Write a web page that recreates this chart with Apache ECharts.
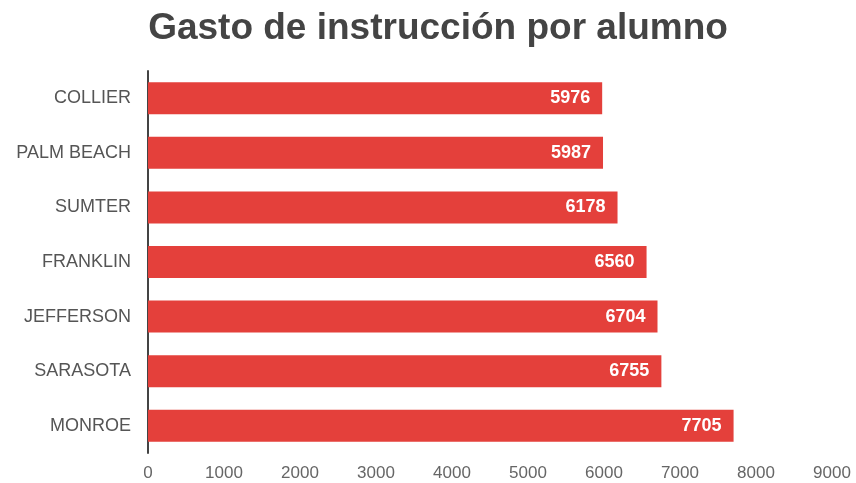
<!DOCTYPE html>
<html>
<head>
<meta charset="utf-8">
<script src="https://cdn.jsdelivr.net/npm/echarts@6/dist/echarts.min.js"></script>
<style>
html,body{margin:0;padding:0;background:#fff;}
#chart{width:856px;height:483px;}
</style>
</head>
<body>
<div id="chart"></div>
<script>
var titleText = 'Gasto de instrucción por alumno';
var categories = ['COLLIER', 'PALM BEACH', 'SUMTER', 'FRANKLIN', 'JEFFERSON', 'SARASOTA', 'MONROE'];
var values = [5976, 5987, 6178, 6560, 6704, 6755, 7705];
var xTicks = [0, 1000, 2000, 3000, 4000, 5000, 6000, 7000, 8000, 9000];

var FONT = 'Liberation Sans, Arial, sans-serif';
var chart = echarts.init(document.getElementById('chart'));
chart.setOption({
  backgroundColor: '#fff',
  animation: false,
  title: {
    text: titleText,
    left: 433,
    textAlign: 'center',
    top: 5,
    textStyle: {
      fontFamily: FONT,
      fontSize: 37,
      fontWeight: 'bold',
      color: '#444444'
    }
  },
  grid: {
    left: 148,
    right: 24,
    top: 71,
    height: 382,
    containLabel: false
  },
  xAxis: {
    type: 'value',
    min: xTicks[0],
    max: xTicks[xTicks.length - 1],
    interval: 1000,
    axisLine: { show: false },
    axisTick: { show: false },
    splitLine: { show: false },
    axisLabel: {
      margin: 12,
      fontFamily: FONT,
      fontSize: 17,
      color: '#666666',
      formatter: function (v) { return String(v); }
    }
  },
  yAxis: {
    type: 'category',
    data: categories,
    inverse: true,
    axisLine: { show: true, lineStyle: { color: '#444444', width: 2 } },
    axisTick: { show: false },
    axisLabel: {
      margin: 17,
      fontFamily: FONT,
      fontSize: 18,
      color: '#555555'
    }
  },
  series: [{
    type: 'bar',
    data: values,
    barWidth: 32,
    itemStyle: { color: '#e4403b' },
    label: {
      show: true,
      position: 'insideRight',
      distance: 12,
      color: '#ffffff',
      fontFamily: FONT,
      fontWeight: 'bold',
      fontSize: 18
    }
  }]
});
</script>
</body>
</html>
